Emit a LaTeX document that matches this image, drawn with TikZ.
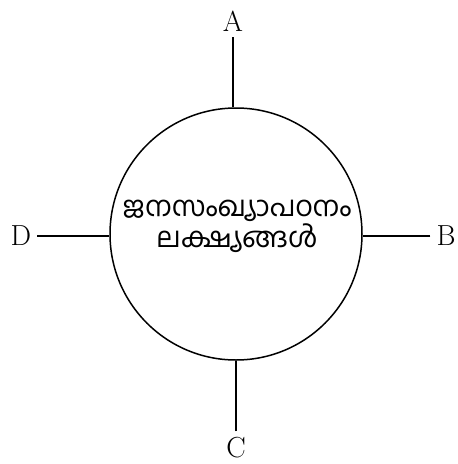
\documentclass[tikz,border=0pt]{standalone}
\usepackage{fontspec}
\usepackage{tikz}
\usetikzlibrary{positioning}
\newfontfamily\malfont[Script=Malayalam]{Hind Kochi}

\begin{document}
\begin{tikzpicture}[
  x=1pt, y=-1pt,
  hub/.style={circle, draw, line width=1.5pt, minimum size=252pt, inner sep=0pt},
  tag/.style={font=\fontsize{29}{32}\selectfont, inner sep=6pt},
  spoke/.style={line width=1.6pt}
]
\useasboundingbox (0,0) rectangle (458,464);
\node[hub] (goal) at (236,234) {};
\node[align=center, font=\malfont\fontsize{28}{31}\selectfont] (txt) at (237,226) {ജനസംഖ്യാപഠനം\\ലക്ഷ്യങ്ങൾ};

\node[tag] (A) at (233,21) {A};
\node[tag] (B) at (446,236) {B};
\node[tag] (C) at (236,448) {C};
\node[tag] (D) at (21,236) {D};

\draw[spoke] (A) -- (A |- goal.north);
\draw[spoke] (B) -- (B -| goal.east);
\draw[spoke] (C) -- (C |- goal.south);
\draw[spoke] (D) -- (D -| goal.west);
\end{tikzpicture}
\end{document}
